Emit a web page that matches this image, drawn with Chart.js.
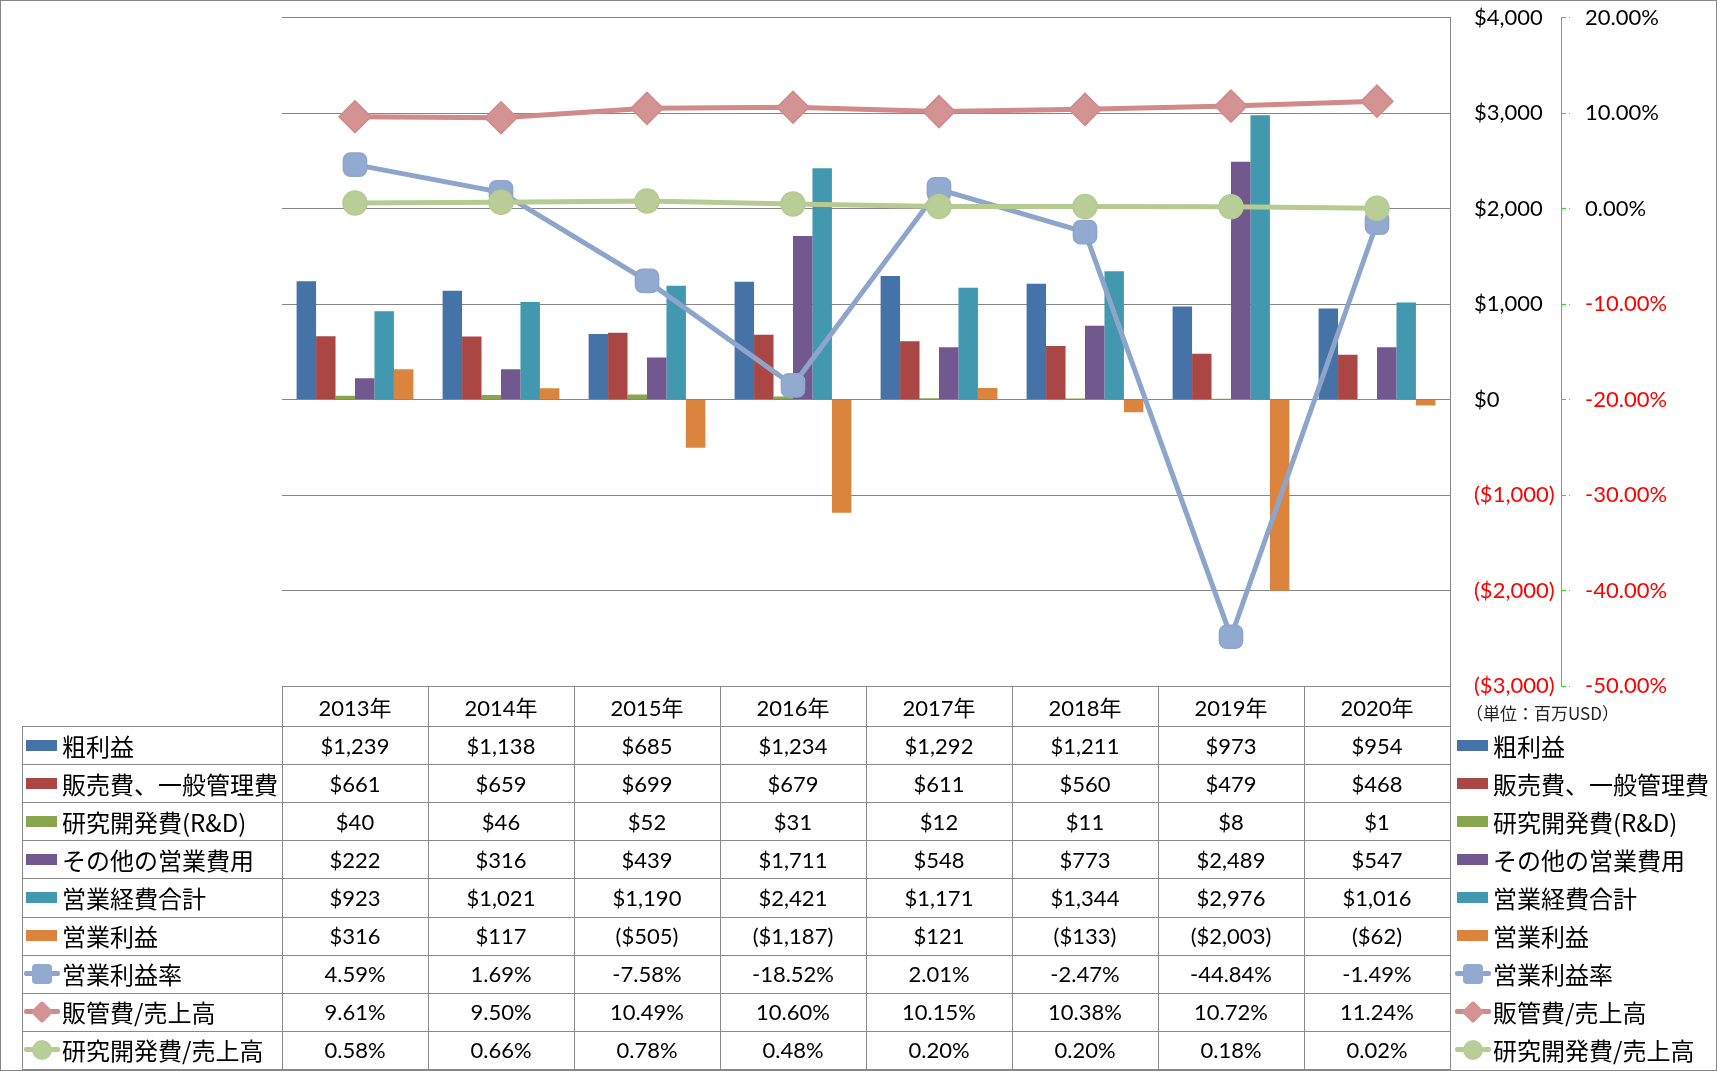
<!DOCTYPE html>
<html>
<head>
<meta charset="utf-8">
<script src="https://cdn.jsdelivr.net/npm/chart.js"></script>
<style>
  html, body { margin: 0; padding: 0; background: #fff; }
  #wrap { position: relative; width: 1717px; height: 1071px; overflow: hidden; background: #fff; }
  #c { position: absolute; left: 0; top: 0; }
  .hl { position: absolute; height: 1px; background: #8a8a8a; }
  .vl { position: absolute; width: 1px; background: #8a8a8a; }
  .cell { position: absolute; display: flex; align-items: center; justify-content: center;
          font-family: Lato, "Noto Sans CJK JP", sans-serif; font-size: 22px; color: #000; white-space: nowrap; }
  .lab { position: absolute; display: flex; align-items: center;
         font-family: "Noto Sans CJK JP", sans-serif; font-size: 24px; color: #000; white-space: nowrap; }
  .sw { position: absolute; }
  .unit { position: absolute; font-family: "Noto Sans CJK JP", sans-serif; font-size: 17px; color: #222; white-space: nowrap; }
  #frame { position: absolute; left: 0; top: 0; width: 1717px; height: 1071px; box-sizing: border-box;
           border: 1px solid #868686; pointer-events: none; }
</style>
</head>
<body>
<div id="wrap">
  <canvas id="c" width="1717" height="1071"></canvas>
  <div id="tbl"></div>
  <div id="frame"></div>
</div>
<script>
// ---------- DATA ----------
const categories = ['2013年', '2014年', '2015年', '2016年', '2017年', '2018年', '2019年', '2020年'];
const grossProfit   = [1239, 1138, 685, 1234, 1292, 1211, 973, 954];
const sgaExpense    = [661, 659, 699, 679, 611, 560, 479, 468];
const rdExpense     = [40, 46, 52, 31, 12, 11, 8, 1];
const otherOpex     = [222, 316, 439, 1711, 548, 773, 2489, 547];
const totalOpex     = [923, 1021, 1190, 2421, 1171, 1344, 2976, 1016];
const opIncome      = [316, 117, -505, -1187, 121, -133, -2003, -62];
const opMargin      = [4.59, 1.69, -7.58, -18.52, 2.01, -2.47, -44.84, -1.49];
const sgaRatio      = [9.61, 9.50, 10.49, 10.60, 10.15, 10.38, 10.72, 11.24];
const rdRatio       = [0.58, 0.66, 0.78, 0.48, 0.20, 0.20, 0.18, 0.02];
const dollarTicks   = [-3000, -2000, -1000, 0, 1000, 2000, 3000, 4000];
const percentTicks  = [-50, -40, -30, -20, -10, 0, 10, 20];
const unitLabel     = '（単位：百万USD）';

// ---------- SERIES CONFIG ----------
const barSeries = [
  { name: '粗利益', data: grossProfit, color: '#4572A7' },
  { name: '販売費、一般管理費', data: sgaExpense, color: '#AA4643' },
  { name: '研究開発費(R&D)', data: rdExpense, color: '#89A54E' },
  { name: 'その他の営業費用', data: otherOpex, color: '#71588F' },
  { name: '営業経費合計', data: totalOpex, color: '#4198AF' },
  { name: '営業利益', data: opIncome, color: '#DB843D' }
];
const lineSeries = [
  { name: '営業利益率', data: opMargin, color: '#8EA5CB', fill: '#93AAD0', style: 'rectRounded', radius: 13.5, order: 3 },
  { name: '販管費/売上高', data: sgaRatio, color: '#CF8A89', fill: '#D39392', style: 'rectRot', radius: 16, order: 2 },
  { name: '研究開発費/売上高', data: rdRatio, color: '#B5CB92', fill: '#B9CD96', style: 'circle', radius: 12, order: 1 }
];

const fmtDollar = v => v < 0 ? '($' + Math.abs(v).toLocaleString('en-US') + ')' : '$' + v.toLocaleString('en-US');
const fmtPct = v => v.toFixed(2) + '%';

// ---------- LAYOUT ----------
const L = { left: 282, right: 1450, top: 15, bottom: 686, tableLeft: 22, headerH: 40, rowH: 38.11 };
const Y_AXIS_W = 111;

function buildChart() {
  const datasets = [];
  barSeries.forEach(s => datasets.push({
    type: 'bar', label: s.name, data: s.data, backgroundColor: s.color, borderWidth: 0,
    yAxisID: 'y', categoryPercentage: 0.8, barPercentage: 1.0, order: 10
  }));
  lineSeries.forEach(s => datasets.push({
    type: 'line', label: s.name, data: s.data, borderColor: s.color, borderWidth: 5,
    pointStyle: s.style, pointRadius: s.radius, pointBackgroundColor: s.fill,
    pointBorderColor: s.color, pointBorderWidth: 1.5, tension: 0, yAxisID: 'y1', order: s.order
  }));

  const tickFont = { family: 'Lato', size: 22 };
  const pad = { left: L.left, top: L.top, bottom: 1071 - L.bottom, right: 0 };
  const fixPad = s => { s.paddingTop = 12; s.paddingBottom = 12; };
  const chart = new Chart(document.getElementById('c'), {
    data: { labels: categories, datasets },
    options: {
      responsive: false, animation: false,
      layout: { padding: pad },
      plugins: { legend: { display: false }, tooltip: { enabled: false } },
      scales: {
        x: { type: 'category', display: false, offset: true, grid: { display: false } },
        y: {
          position: 'right', min: dollarTicks[0], max: dollarTicks[dollarTicks.length - 1],
          afterBuildTicks: s => { s.ticks = dollarTicks.map(v => ({ value: v })); },
          afterFit: s => { s.width = Y_AXIS_W; fixPad(s); },
          ticks: { font: tickFont, padding: 24, callback: v => fmtDollar(v),
                   color: c => c.tick.value < 0 ? '#FF0000' : '#000000' },
          grid: { color: '#868686', lineWidth: 1, drawTicks: false },
          border: { display: true, color: '#868686', width: 1 }
        },
        y1: {
          position: 'right', min: percentTicks[0], max: percentTicks[percentTicks.length - 1],
          afterBuildTicks: s => { s.ticks = percentTicks.map(v => ({ value: v })); },
          afterFit: s => { s.width = 1717 - (L.right + Y_AXIS_W); fixPad(s); },
          ticks: { font: tickFont, padding: 15, callback: v => fmtPct(v),
                   color: c => c.tick.value < 0 ? '#FF0000' : '#000000' },
          grid: { drawOnChartArea: false, color: '#22E622', tickLength: 9, tickBorderDash: [4, 3] },
          border: { display: true, color: '#22E622', dash: [4, 3], width: 1 }
        }
      }
    }
  });
  for (let k = 0; k < 4; k++) {
    const a = chart.chartArea;
    const dt = a.top - L.top, db = a.bottom - L.bottom, dl = a.left - L.left, dr = a.right - L.right;
    if (Math.abs(dt) < 0.3 && Math.abs(db) < 0.3 && Math.abs(dl) < 0.3 && Math.abs(dr) < 0.3) break;
    pad.top = Math.max(0, pad.top - dt); pad.bottom += db; pad.left -= dl; pad.right = Math.max(0, pad.right + dr);
    chart.options.layout.padding = Object.assign({}, pad);
    chart.update('none');
  }
}

function el(cls, css, html) {
  const d = document.createElement('div');
  d.className = cls;
  Object.assign(d.style, css);
  if (html !== undefined) d.textContent = html;
  document.getElementById('tbl').appendChild(d);
  return d;
}

function key(x, yc, type, s) {
  if (type === 'bar') {
    el('sw', { left: x + 'px', top: (yc - 5.5) + 'px', width: '31px', height: '11px', background: s.color });
  } else {
    el('sw', { left: (x - 2) + 'px', top: (yc - 2.5) + 'px', width: '36px', height: '5px', background: s.color, borderRadius: '2px' });
    const cx = x + 16;
    if (s.style === 'rectRounded') {
      el('sw', { left: (cx - 10) + 'px', top: (yc - 10) + 'px', width: '20px', height: '20px', background: s.fill, borderRadius: '4px' });
    } else if (s.style === 'rectRot') {
      el('sw', { left: (cx - 8) + 'px', top: (yc - 8) + 'px', width: '16px', height: '16px', background: s.fill, transform: 'rotate(45deg)', borderRadius: '2px' });
    } else {
      el('sw', { left: (cx - 10) + 'px', top: (yc - 10) + 'px', width: '20px', height: '20px', background: s.fill, borderRadius: '50%' });
    }
  }
}

function buildTable() {
  const colW = (L.right - L.left) / categories.length;
  const rows = [];
  barSeries.forEach(s => rows.push({ s, type: 'bar', fmt: fmtDollar }));
  lineSeries.forEach(s => rows.push({ s, type: 'line', fmt: fmtPct }));
  const bodyTop = L.bottom + L.headerH;
  const bottom = bodyTop + rows.length * L.rowH;

  el('hl', { left: L.left + 'px', top: L.bottom + 'px', width: (L.right - L.left + 1) + 'px' });
  for (let i = 0; i <= rows.length; i++) {
    el('hl', { left: L.tableLeft + 'px', top: Math.round(bodyTop + i * L.rowH) + 'px', width: (L.right - L.tableLeft + 1) + 'px' });
  }
  el('vl', { left: L.tableLeft + 'px', top: bodyTop + 'px', height: (bottom - bodyTop) + 'px' });
  for (let j = 0; j <= categories.length; j++) {
    el('vl', { left: Math.round(L.left + j * colW) + 'px', top: L.bottom + 'px', height: (bottom - L.bottom + 1) + 'px' });
  }
  categories.forEach((c, j) => el('cell', { left: (L.left + j * colW) + 'px', top: L.bottom + 'px', width: colW + 'px', height: L.headerH + 'px' }, c));
  rows.forEach((r, i) => {
    const top = bodyTop + i * L.rowH;
    const yc = top + L.rowH / 2;
    key(L.tableLeft + 4, yc, r.type, r.s);
    el('lab', { left: (L.tableLeft + 40) + 'px', top: top + 'px', height: L.rowH + 'px' }, r.s.name);
    r.s.data.forEach((v, j) => el('cell', { left: (L.left + j * colW) + 'px', top: top + 'px', width: colW + 'px', height: L.rowH + 'px' }, r.fmt(v)));
    key(1457, yc, r.type, r.s);
    el('lab', { left: '1493px', top: top + 'px', height: L.rowH + 'px' }, r.s.name);
  });
  el('unit', { left: '1466px', top: '700px' }, unitLabel);
}

buildTable();
if (document.fonts && document.fonts.load) {
  Promise.all([document.fonts.load('22px Lato'), document.fonts.load('24px "Noto Sans CJK JP"')]).then(buildChart, buildChart);
} else {
  buildChart();
}
</script>
</body>
</html>
